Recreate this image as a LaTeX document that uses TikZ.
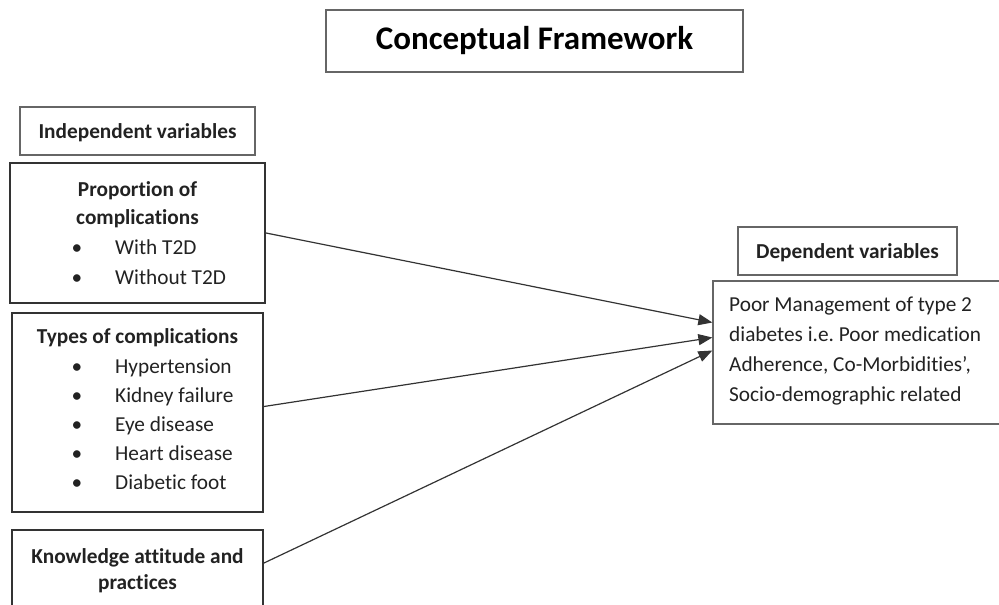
\documentclass[tikz,border=0pt]{standalone}
\usepackage{fontspec}
\setmainfont{Carlito}[Ligatures={NoCommon}]
\usetikzlibrary{arrows.meta}
\definecolor{thinline}{HTML}{666666}
\definecolor{thickline}{HTML}{333333}
\definecolor{txt}{HTML}{222222}
\frenchspacing
\tikzset{
  thinbox/.style={draw=thinline, line width=1.3pt, rectangle, inner sep=0pt, fill=white},
  thickbox/.style={draw=thickline, line width=2pt, rectangle, inner sep=0pt, fill=white},
  body/.style={font=\fontsize{21.3}{29}\selectfont, text=txt, inner sep=0pt},
  head/.style={font=\fontsize{21.3}{29}\selectfont\bfseries, text=txt, inner sep=0pt},
  conn/.style={draw=thickline, line width=1.2pt, -{Triangle[length=14pt,width=11pt]}}
}
\begin{document}
\begin{tikzpicture}[x=1pt,y=-1pt]
\useasboundingbox (0,0) rectangle (999,605);
\clip (0,0) rectangle (999,605);
% title
\node[thinbox, minimum width=417pt, minimum height=62pt] (title) at (534.5,41) {};
\node[font=\fontsize{33}{38}\selectfont\bfseries, text=black, inner sep=0pt] (titletext) at (534.5,41) {Conceptual Framework};
% independent variables label
\node[thinbox, minimum width=235pt, minimum height=48pt] (indep) at (137.5,131) {};
\node[head, anchor=base] (indeptext) at (137.5,138) {Independent variables};
% proportion box
\node[thickbox, minimum width=255pt, minimum height=140pt] (prop) at (137.5,233) {};
\node[head, anchor=base] (p1) at (137.5,196) {Proportion of};
\node[head, anchor=base] (p2) at (137.5,224) {complications};
\node[body, anchor=base] (pb1) at (77,254) {•};
\node[body, anchor=base west] (pt1) at (115,254) {With T2D};
\node[body, anchor=base] (pb2) at (77,284) {•};
\node[body, anchor=base west] (pt2) at (115,284) {Without T2D};
% types box
\node[thickbox, minimum width=251pt, minimum height=199pt] (types) at (137.5,412.5) {};
\node[head, anchor=base] (t0) at (137.5,343) {Types of complications};
\node[body, anchor=base] (tb1) at (77,373) {•};
\node[body, anchor=base west] (tt1) at (115,373) {Hypertension};
\node[body, anchor=base] (tb2) at (77,402) {•};
\node[body, anchor=base west] (tt2) at (115,402) {Kidney failure};
\node[body, anchor=base] (tb3) at (77,431) {•};
\node[body, anchor=base west] (tt3) at (115,431) {Eye disease};
\node[body, anchor=base] (tb4) at (77,460) {•};
\node[body, anchor=base west] (tt4) at (115,460) {Heart disease};
\node[body, anchor=base] (tb5) at (77,489) {•};
\node[body, anchor=base west] (tt5) at (115,489) {Diabetic foot};
% knowledge box
\node[thickbox, minimum width=251pt, minimum height=80pt] (know) at (137.5,570) {};
\node[head, anchor=base] (k1) at (137.5,563) {Knowledge attitude and};
\node[head, anchor=base] (k2) at (137.5,589) {practices};
% dependent variables label
\node[thinbox, minimum width=219pt, minimum height=48pt] (dep) at (847.5,251) {};
\node[head, anchor=base] (deptext) at (847.5,258) {Dependent variables};
% outcome box
\node[thinbox, minimum width=300pt, minimum height=143pt] (out) at (863,352.5) {};
\node[body, anchor=base west] (o1) at (729,311) {Poor Management of type 2};
\node[body, anchor=base west] (o2) at (729,341) {diabetes i.e. Poor medication};
\node[body, anchor=base west] (o3) at (729,371) {Adherence, Co-Morbidities’,};
\node[body, anchor=base west] (o4) at (729,401) {Socio-demographic related};
% connectors
\draw[conn] (prop.east) -- ([yshift=30pt]out.west);
\draw[conn] ([yshift=6pt]types.east) -- ([yshift=15pt]out.west);
\draw[conn] ([yshift=7pt]know.east) -- ([yshift=2pt]out.west);
\end{tikzpicture}
\end{document}
